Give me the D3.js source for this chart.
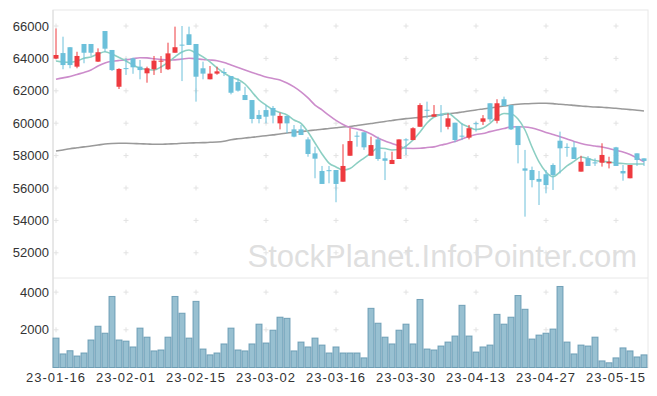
<!DOCTYPE html>
<html>
<head>
<meta charset="utf-8">
<title>Candle chart</title>
<script src="https://d3js.org/d3.v7.min.js"></script>
<style>
  body { margin: 0; background: #fff; }
  svg text { font-family: "Liberation Sans", Arial, sans-serif; }
</style>
</head>
<body>
<div id="chart"></div>
<script>
// trading days
const dates = [
  "23-01-16","23-01-17","23-01-18","23-01-19","23-01-20","23-01-25","23-01-26","23-01-27","23-01-30","23-01-31",
  "23-02-01","23-02-02","23-02-03","23-02-06","23-02-07","23-02-08","23-02-09","23-02-10","23-02-13","23-02-14",
  "23-02-15","23-02-16","23-02-17","23-02-20","23-02-21","23-02-22","23-02-23","23-02-24","23-02-27","23-02-28",
  "23-03-02","23-03-03","23-03-06","23-03-07","23-03-08","23-03-09","23-03-10","23-03-13","23-03-14","23-03-15",
  "23-03-16","23-03-17","23-03-20","23-03-21","23-03-22","23-03-23","23-03-24","23-03-27","23-03-28","23-03-29",
  "23-03-30","23-03-31","23-04-03","23-04-04","23-04-05","23-04-06","23-04-07","23-04-10","23-04-11","23-04-12",
  "23-04-13","23-04-14","23-04-17","23-04-18","23-04-19","23-04-20","23-04-21","23-04-24","23-04-25","23-04-26",
  "23-04-27","23-04-28","23-05-02","23-05-03","23-05-04","23-05-08","23-05-09","23-05-10","23-05-11","23-05-12",
  "23-05-15","23-05-16","23-05-17","23-05-18","23-05-19"
];

const open = [
  63990,64330,64690,63490,64890,64890,63800,65690,64520,62250,
  63400,64000,63490,63080,63330,63800,63330,64350,64850,65490,
  64890,63390,62710,63060,63160,62910,62540,61740,61430,60510,
  60810,60940,59990,60450,59620,59620,59000,58140,57050,57100,
  57110,56390,57990,59230,59440,57990,59000,57830,57480,57790,
  59000,58960,59780,60830,60400,60530,59780,60030,59230,59110,
  60000,60090,61230,60150,61480,61120,59830,57210,57110,56560,
  56850,57420,58920,58540,58510,57010,57830,57580,57560,57520,
  58510,57050,56600,58140,57830
];
const high = [
  65850,65340,64700,64410,64890,64890,64620,65690,64520,63390,
  64020,64050,63900,63490,64150,64150,64970,65960,66000,65960,
  64890,63800,63530,63490,63390,62910,62770,62250,61430,60810,
  61120,61060,60650,60450,59890,59890,59130,58550,57360,57360,
  57110,58700,59690,59480,59440,59170,59170,58240,58240,59000,
  59070,59750,61230,61330,61120,61120,60610,60030,59990,59890,
  60090,60500,61230,61480,61640,61120,59830,58350,57320,57050,
  57110,57520,59480,58760,58860,57990,57970,57830,58760,57930,
  58540,57420,57420,58140,57830
];
const low = [
  63960,63330,63390,63390,63700,64150,63780,64410,63220,62110,
  62980,63050,62710,62500,62980,63100,63280,64350,62600,64830,
  61330,62710,62710,62990,62910,61780,61950,61430,59990,59990,
  59990,59990,59620,59380,59130,59270,57930,56600,56250,56290,
  55120,56390,57990,58550,58350,57990,57680,56490,57480,57790,
  58040,58960,59780,60300,60400,59440,59620,58820,58960,59000,
  59480,59890,60090,59990,61060,59580,57520,54230,56040,54950,
  55670,55880,56900,57930,57790,57010,57360,57360,57320,57210,
  57360,56450,56600,57360,57360
];
const close = [
  64210,63590,63590,64150,64350,64350,64380,64600,63280,63350,
  63350,63450,63280,63390,63860,63860,64310,64690,64800,64830,
  62870,63060,63060,63200,63100,61880,62010,61430,60260,60260,
  60400,60470,60450,59990,59170,59270,58100,57810,56250,57060,
  56250,57360,58900,59200,58510,58650,57790,57680,57730,59000,
  58970,59690,61120,60810,60550,60500,60300,58960,59200,59690,
  59990,60300,60240,61230,61060,59620,58650,57070,56490,56390,
  56180,56800,58450,58510,57790,57620,57360,57560,58040,57620,
  57360,56900,57420,57730,57670
];
const volume = [
  1560,720,890,610,770,1460,2190,1820,3770,1460,
  1400,1090,2090,1610,880,930,1610,3770,2880,1560,
  3510,980,670,770,1250,2090,930,880,1250,2300,
  1300,1980,2670,2610,880,1350,1090,1560,1190,770,
  1090,770,770,770,510,3140,2350,1610,1250,1980,
  2300,1250,3610,980,930,1140,1350,1670,3300,1670,
  820,1090,1190,2820,2300,2670,3820,3090,1510,1720,
  1820,2040,4300,1350,720,1190,1140,1610,350,250,
  510,1040,880,560,670
];
// moving averages
const ma5 = [
  63840,63780,63760,63840,64010,64090,64270,64410,64270,64060,
  63840,63590,63390,63320,63280,63470,63750,64090,64400,64520,
  64330,64090,63780,63410,63100,62850,62700,62420,61930,61430,
  61120,60820,60660,60510,60200,59990,59460,58780,58100,57540,
  57300,57110,57200,57540,57850,58160,58470,58440,58350,58380,
  58590,58960,59460,60010,60380,60540,60610,60320,59950,59770,
  59610,59700,59990,60380,60600,60570,60260,59580,58530,57610,
  56990,56700,56990,57360,57640,57910,57820,57700,57640,57610,
  57540,57510,57480,57480,57480
];
const ma20 = [
  62710,62800,62880,63010,63130,63280,63530,63720,63820,63870,
  63900,63980,64040,64030,63980,63930,63900,63910,63960,64010,
  63980,63930,63900,63860,63750,63590,63440,63280,63130,62990,
  62850,62760,62670,62480,62240,61930,61560,61120,60820,60480,
  60170,59920,59740,59640,59520,59330,59090,58900,58750,58590,
  58450,58440,58450,58500,58540,58650,58750,58870,59030,59180,
  59300,59360,59480,59580,59670,59770,59780,59770,59700,59580,
  59430,59300,59170,59030,58870,58750,58650,58590,58530,58440,
  58320,58220,58070,57850,57620
];
const ma60 = [
  58280,58350,58420,58480,58540,58590,58650,58720,58750,58760,
  58760,58750,58730,58720,58700,58700,58720,58730,58760,58780,
  58790,58800,58820,58840,58890,58980,59040,59090,59130,59180,
  59230,59280,59330,59400,59440,59480,59530,59580,59630,59670,
  59720,59770,59800,59860,59920,59980,60040,60110,60170,60230,
  60280,60320,60360,60410,60480,60530,60580,60630,60690,60750,
  60820,60880,60940,61000,61060,61120,61170,61200,61220,61230,
  61230,61210,61170,61140,61100,61060,61030,61000,60980,60950,
  60920,60880,60840,60800,60750
];
const priceTicks = [52000, 54000, 56000, 58000, 60000, 62000, 64000, 66000];
const volumeTicks = [2000, 4000];
const watermark = "StockPlanet.InfoPointer.com";

const width = 657;
const height = 396;
const padLeft = 53;
const padRight = 648;
const padTop = 10;
const split = 278;
const padBottom = 367.5;

const data = dates.map(function (d, i) {
  return { date: d, o: open[i], h: high[i], l: low[i], c: close[i], v: volume[i],
           m5: ma5[i], m20: ma20[i], m60: ma60[i] };
});

const svg = d3.select("#chart")
  .append("svg")
  .attr("width", width)
  .attr("height", height);

// scales
const xScale = d3.scaleBand()
  .domain(dates)
  .range([52.5, 647.5])
  .padding(0);
const cx = function (d) { return xScale(d) + xScale.bandwidth() / 2; };

const yScale = d3.scaleLinear()
  .domain([50444, 66988])
  .range([split, padTop]);

const vScale = d3.scaleLinear()
  .domain([0, 4750])
  .range([padBottom, split]);

const xTicks = dates.filter(function (d, i) { return i % 10 == 0; });

// frame
svg.append("rect")
  .attr("x", padLeft).attr("y", padTop)
  .attr("width", padRight - padLeft).attr("height", padBottom - padTop)
  .attr("fill", "none").attr("stroke", "#e8e8e8");
svg.append("line")
  .attr("x1", padLeft).attr("x2", padRight)
  .attr("y1", split).attr("y2", split)
  .attr("stroke", "#e8e8e8");
svg.append("line")
  .attr("x1", padLeft).attr("x2", padLeft)
  .attr("y1", padTop).attr("y2", padBottom)
  .attr("stroke", "#dcdcdc");
svg.append("line")
  .attr("x1", padLeft).attr("x2", padRight)
  .attr("y1", padBottom).attr("y2", padBottom)
  .attr("stroke", "#dcdcdc");

// grid crosses
const gridY = priceTicks.map(function (t) { return yScale(t); })
  .concat(volumeTicks.map(function (t) { return vScale(t); }));
const crosses = [];
xTicks.forEach(function (d) {
  gridY.forEach(function (gy) { crosses.push([cx(d), gy]); });
});
svg.append("g")
  .selectAll("path")
  .data(crosses)
  .enter()
  .append("path")
  .attr("d", function (p) {
    return "M" + (p[0] - 2.5) + "," + p[1] + "h5M" + p[0] + "," + (p[1] - 2.5) + "v5";
  })
  .attr("stroke", "#e2e2e2")
  .attr("stroke-width", 1);

// watermark
svg.append("text")
  .attr("x", 637)
  .attr("y", 267)
  .attr("text-anchor", "end")
  .attr("font-size", 31)
  .attr("fill", "#dfdfdf")
  .text(watermark);

// y axis labels
const yAxis = d3.axisLeft(yScale)
  .tickValues(priceTicks)
  .tickSize(0)
  .tickPadding(4)
  .tickFormat(d3.format("d"));
svg.append("g")
  .attr("transform", "translate(" + padLeft + ",0)")
  .call(yAxis)
  .call(function (g) { g.select(".domain").remove(); })
  .selectAll("text")
  .attr("font-size", 13)
  .attr("fill", "#333");

const vAxis = d3.axisLeft(vScale)
  .tickValues(volumeTicks)
  .tickSize(0)
  .tickPadding(4)
  .tickFormat(d3.format("d"));
svg.append("g")
  .attr("transform", "translate(" + padLeft + ",0)")
  .call(vAxis)
  .call(function (g) { g.select(".domain").remove(); })
  .selectAll("text")
  .attr("font-size", 13)
  .attr("fill", "#333");

// x axis labels
const xAxis = d3.axisBottom(xScale)
  .tickValues(xTicks)
  .tickSize(0)
  .tickPadding(5.5);
svg.append("g")
  .attr("transform", "translate(0," + padBottom + ")")
  .call(xAxis)
  .call(function (g) { g.select(".domain").remove(); })
  .selectAll("text")
  .attr("font-size", 13)
  .attr("letter-spacing", 1)
  .attr("fill", "#333");

// volume bars
svg.append("g")
  .selectAll("rect")
  .data(data)
  .enter()
  .append("rect")
  .attr("x", function (d) { return xScale(d.date) + 0.5; })
  .attr("y", function (d) { return vScale(d.v); })
  .attr("width", xScale.bandwidth() - 1)
  .attr("height", function (d) { return padBottom - vScale(d.v); })
  .attr("fill", "#98c0d1")
  .attr("stroke", "#5d92ad")
  .attr("stroke-width", 1)
  .attr("stroke-opacity", 0.8);

// moving averages
function maLine(key) {
  return d3.line()
    .x(function (d) { return cx(d.date); })
    .y(function (d) { return yScale(d[key]); })
    .curve(d3.curveMonotoneX);
}
svg.append("path").datum(data)
  .attr("d", maLine("m60"))
  .attr("fill", "none").attr("stroke", "#9a9a9a").attr("stroke-width", 1.6);
svg.append("path").datum(data)
  .attr("d", maLine("m20"))
  .attr("fill", "none").attr("stroke", "#cc8ccb").attr("stroke-width", 1.6);
svg.append("path").datum(data)
  .attr("d", maLine("m5"))
  .attr("fill", "none").attr("stroke", "#8ccfc3").attr("stroke-width", 1.6);

// candles
const up = "#ee3a3f";
const down = "#6cc0da";
const candles = svg.append("g")
  .selectAll("g")
  .data(data)
  .enter()
  .append("g");
candles.append("line")
  .attr("x1", function (d) { return cx(d.date); })
  .attr("x2", function (d) { return cx(d.date); })
  .attr("y1", function (d) { return yScale(d.h); })
  .attr("y2", function (d) { return yScale(d.l); })
  .attr("stroke", function (d) { return d.c > d.o ? up : down; })
  .attr("stroke-width", 1);
candles.append("rect")
  .attr("x", function (d) { return cx(d.date) - 2.5; })
  .attr("y", function (d) { return yScale(Math.max(d.o, d.c)); })
  .attr("width", 5)
  .attr("height", function (d) {
    return Math.max(1, Math.abs(yScale(d.o) - yScale(d.c)));
  })
  .attr("fill", function (d) { return d.c > d.o ? up : down; });
</script>
</body>
</html>
